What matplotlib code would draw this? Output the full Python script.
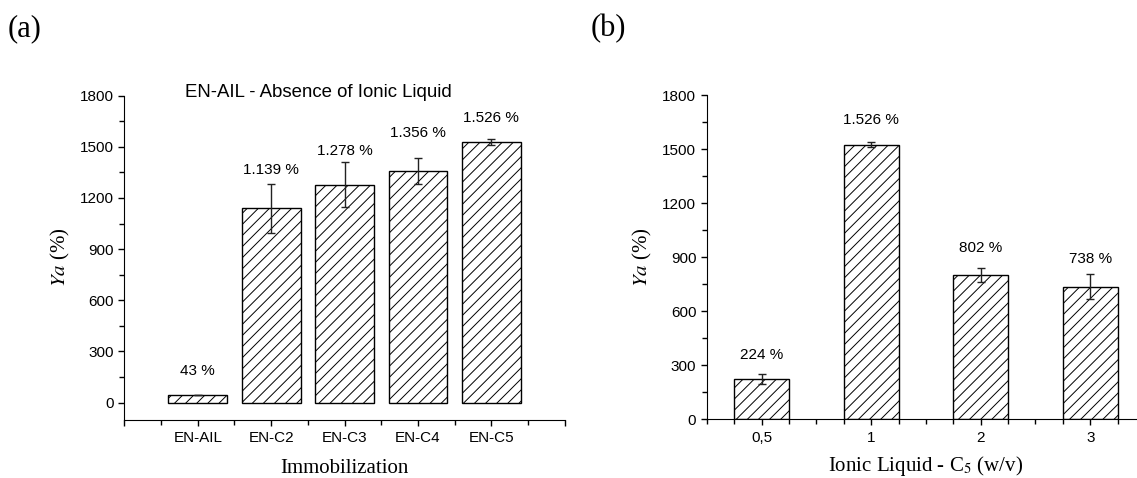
import matplotlib
matplotlib.use("Agg")
import matplotlib.pyplot as plt
from matplotlib.ticker import MultipleLocator, FixedLocator

plt.rcParams["font.family"] = ["Liberation Sans", "DejaVu Sans"]
plt.rcParams["mathtext.fontset"] = "stix"
plt.rcParams["hatch.linewidth"] = 0.7

# panel (a)
imm_labels = ["EN-AIL", "EN-C2", "EN-C3", "EN-C4", "EN-C5"]
imm_values = [43, 1139, 1278, 1356, 1526]
imm_errors = [0, 145, 130, 77, 18]
imm_text = ["43 %", "1.139 %", "1.278 %", "1.356 %", "1.526 %"]
imm_text_y = [183, 1362, 1473, 1580, 1668]

# panel (b)
il_labels = ["0,5", "1", "2", "3"]
il_values = [224, 1526, 802, 738]
il_errors = [28, 15, 41, 68]
il_text = ["224 %", "1.526 %", "802 %", "738 %"]
il_text_y = [356, 1665, 951, 890]

serif = ["Liberation Serif", "DejaVu Serif"]


def style_axes(ax):
    ax.spines["top"].set_visible(False)
    ax.spines["right"].set_visible(False)
    ax.yaxis.set_major_locator(MultipleLocator(300))
    ax.yaxis.set_minor_locator(MultipleLocator(150))
    ax.tick_params(which="major", direction="out", length=4.5, width=1, labelsize=11, pad=3)
    ax.tick_params(axis="x", which="major", pad=4)
    ax.tick_params(which="minor", direction="out", length=3.5, width=1)


fig = plt.figure(figsize=(11.37, 4.78), dpi=100)

ax1 = fig.add_axes([0.1094, 0.122, 0.3873, 0.678])
x1 = list(range(1, len(imm_values) + 1))
ax1.bar(x1, imm_values, width=0.8, color="white", edgecolor="black",
        linewidth=1, hatch="///", zorder=2)
ax1.errorbar(x1, imm_values, yerr=imm_errors, fmt="none", ecolor="#222222",
             elinewidth=1, capsize=3, capthick=1, zorder=3)
for xi, t, ty in zip(x1, imm_text, imm_text_y):
    ax1.text(xi, ty, t, ha="center", va="center", fontsize=11)
ax1.set_xlim(0, 6)
ax1.set_ylim(-100, 1800)
style_axes(ax1)
ax1.xaxis.set_major_locator(FixedLocator(range(0, 7)))
ax1.set_xticklabels([""] + imm_labels + [""])
ax1.xaxis.set_minor_locator(MultipleLocator(0.5))
ax1.text(2.64, 1817, "EN-AIL - Absence of Ionic Liquid", ha="center",
         va="center", fontsize=13.4)
ax1.set_xlabel("Immobilization", family=serif, fontsize=15, labelpad=10)
ax1.set_ylabel(r"$Ya$ (%)", family=serif, fontsize=15, labelpad=6)

ax2 = fig.add_axes([0.6216, 0.1224, 0.3855, 0.678])
x2 = list(range(1, len(il_values) + 1))
ax2.bar(x2, il_values, width=0.5, color="white", edgecolor="black",
        linewidth=1, hatch="///", zorder=2)
ax2.errorbar(x2, il_values, yerr=il_errors, fmt="none", ecolor="#222222",
             elinewidth=1, capsize=3, capthick=1, zorder=3)
for xi, t, ty in zip(x2, il_text, il_text_y):
    ax2.text(xi, ty, t, ha="center", va="center", fontsize=11)
ax2.set_xlim(0.5, 4.5)
ax2.set_ylim(0, 1800)
style_axes(ax2)
ax2.set_xticks(x2)
ax2.set_xticklabels(il_labels)
ax2.xaxis.set_minor_locator(MultipleLocator(0.25))
ax2.set_xlabel(r"Ionic Liquid - C$_5$ (w/v)", family=serif, fontsize=15, labelpad=6)
ax2.set_ylabel(r"$Ya$ (%)", family=serif, fontsize=15, labelpad=6)

fig.text(0.022, 0.94, "(a)", family=serif, fontsize=22, ha="center", va="center")
fig.text(0.535, 0.94, "(b)", family=serif, fontsize=22, ha="center", va="center")

fig.savefig("out.png", dpi=100)
